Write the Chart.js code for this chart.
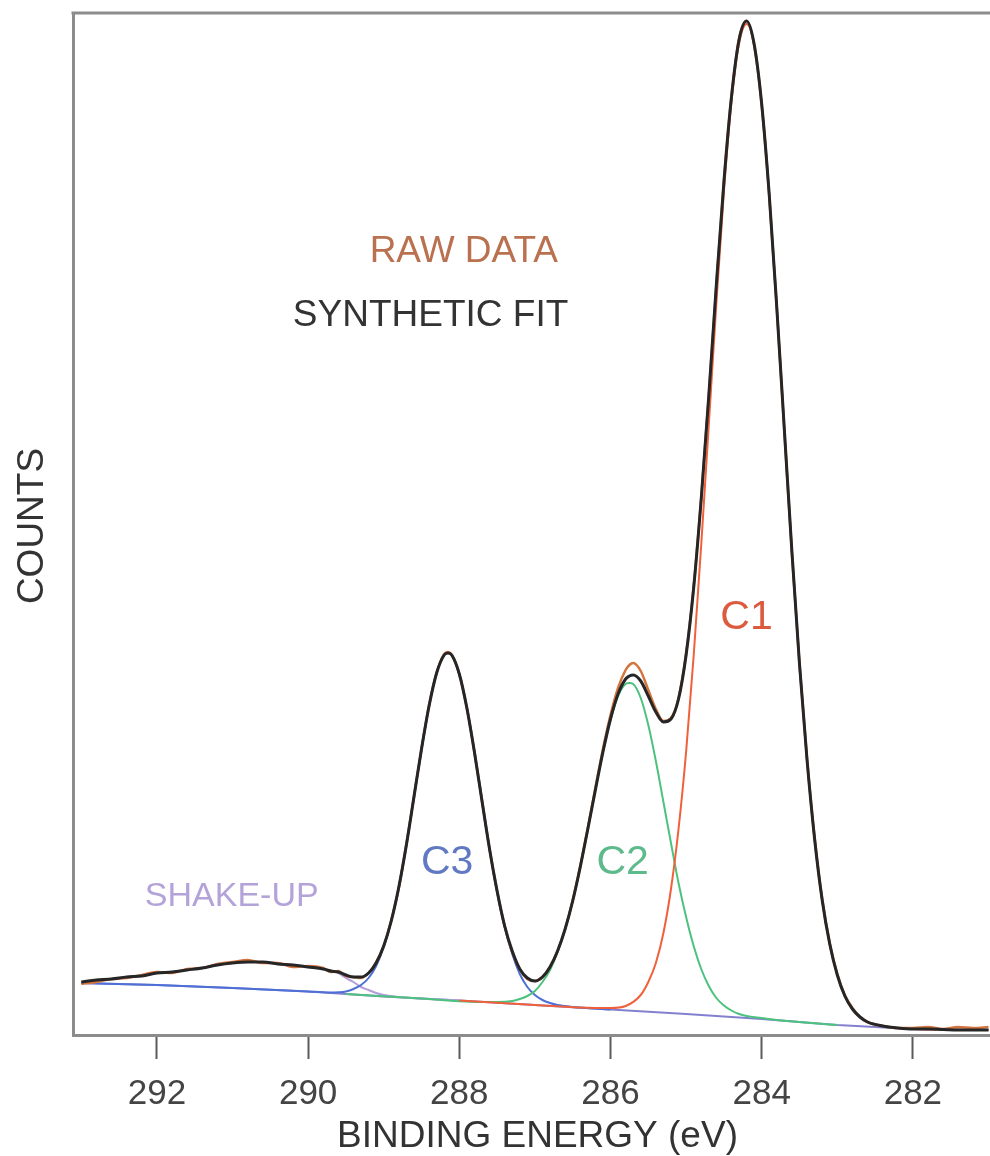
<!DOCTYPE html>
<html><head><meta charset="utf-8">
<script src="https://cdn.jsdelivr.net/npm/chart.js@4.4.1/dist/chart.umd.min.js"></script>
<style>html,body{margin:0;padding:0;background:#fff;}#wrap{width:990px;height:1156px;position:relative;}</style>
</head><body><div id="wrap"><canvas id="c" width="990" height="1156"></canvas></div>
<script>
// ---- data (binding energy in eV, counts in arbitrary units) ----
const xTicks = [292, 290, 288, 286, 284, 282];

const fitEnergy = [
  293.0, 292.8, 292.6, 292.4, 292.2, 292.0, 291.8, 291.6, 291.4, 291.2, 291.0, 290.8, 290.6, 290.4, 290.2, 290.0, 289.8,
  289.7, 289.6, 289.5, 289.4, 289.3, 289.2, 289.1, 289.0, 288.9, 288.8, 288.7, 288.6, 288.5, 288.4, 288.3, 288.2,
  288.15,
  288.1, 288.0, 287.9, 287.8, 287.7, 287.6, 287.5, 287.4, 287.3, 287.2, 287.1, 287.0,
  286.9, 286.8, 286.7, 286.6, 286.5, 286.4, 286.3, 286.2, 286.1, 286.0, 285.9, 285.8,
  285.75,
  285.7, 285.6, 285.5, 285.4, 285.3, 285.2, 285.1, 285.0,
  284.9, 284.8, 284.7, 284.6, 284.5, 284.4, 284.3, 284.2, 284.1, 284.0,
  283.9, 283.8, 283.7, 283.6, 283.5, 283.4, 283.3, 283.2, 283.1, 283.0,
  282.9, 282.8, 282.7, 282.6,
  282.4, 282.2, 282.0, 281.8, 281.6, 281.4, 281.2, 281.0
];
const fitCounts = [
  53, 55, 56, 58, 59, 62, 63, 65, 67, 70, 72, 73, 73, 71, 70, 68, 66,
  64, 63, 60, 58, 58, 62, 72, 89, 114, 148, 190, 238, 286, 329, 362, 380,
  382,
  380, 361, 327, 283, 234, 186, 144, 109, 84, 66, 57, 54,
  58, 68, 84, 106, 134, 168, 206, 245, 283, 316, 341, 356,
  359,
  360, 354, 339, 323, 313, 316, 336, 380,
  447, 536, 639, 750, 853, 938, 995, 1014, 991, 931,
  840, 727, 605, 483, 371, 275, 196, 135, 91, 60,
  39, 26, 18, 13,
  9, 7, 6, 6, 5.5, 5, 5, 5
];
const rawCounts = [
  51, 53, 56, 57, 60, 63, 62, 66, 67, 71, 73, 75, 72, 72, 68, 69, 67,
  63, 64, 59, 58, 57, 62, 73, 89, 115, 147, 191, 238, 286, 330, 362, 381,
  383,
  380, 361, 327, 283, 235, 186, 144, 109, 83, 66, 56, 54,
  58, 68, 84, 106, 135, 169, 207, 247, 286, 320, 347, 365,
  370,
  372, 364, 345, 326, 314, 317, 337, 381,
  448, 537, 639, 750, 853, 938, 996, 1014, 990, 930,
  839, 727, 604, 482, 371, 276, 197, 136, 92, 61,
  40, 27, 18, 13,
  9, 7, 7, 8, 6, 8, 7, 8
];

const bgEnergy = [293.0, 292.0, 291.0, 290.0, 289.0, 288.0, 287.0, 286.0, 285.0, 284.0, 283.0, 282.0, 281.0];
const bgCounts = [52, 50, 47, 43.5, 38.5, 34.5, 30, 25.5, 21, 16, 10, 6, 5];

const c1Energy = [
  288.0, 287.0, 286.2, 286.0, 285.8, 285.6,
  285.5, 285.4, 285.3, 285.2, 285.1, 285.0, 284.9, 284.8, 284.7, 284.6, 284.5, 284.4, 284.3, 284.2,
  284.1, 284.0, 283.9, 283.8, 283.7, 283.6, 283.5, 283.4, 283.3, 283.2, 283.1, 283.0, 282.9, 282.8, 282.7, 282.6,
  282.4, 282.2, 282.0, 281.0
];
const c1Counts = [
  34.5, 30, 27, 27, 29, 40,
  53, 72, 102, 146, 206, 283, 379, 490, 610, 731, 843, 933, 991, 1011,
  990, 931, 840, 727, 605, 483, 371, 275, 196, 135, 91, 60, 39, 26, 18, 13,
  9, 7, 6, 5
];

const c2Energy = [
  289.5, 288.5, 287.7, 287.5,
  287.3, 287.2, 287.1, 287.0,
  286.9, 286.8, 286.7, 286.6, 286.5, 286.4, 286.3, 286.2, 286.1, 286.0, 285.9, 285.8,
  285.75,
  285.7, 285.6, 285.5, 285.4, 285.3, 285.2, 285.1, 285.0, 284.9, 284.8, 284.7, 284.6, 284.5, 284.4, 284.3, 284.2,
  284.0, 283.8, 283.0
];
const c2Counts = [
  41, 36.5, 33, 33,
  34, 36, 39, 44,
  53, 65, 83, 106, 134, 168, 206, 245, 283, 315, 339, 351,
  352,
  351, 337, 310, 274, 233, 192, 152, 118, 89, 66, 49, 37, 29.5, 24.5, 21, 19,
  17, 15, 10
];

const c3Energy = [
  293.0, 292.0, 291.0, 290.0,
  289.8, 289.7, 289.6, 289.5, 289.4, 289.3, 289.2, 289.1, 289.0, 288.9, 288.8, 288.7, 288.6, 288.5, 288.4, 288.3, 288.2,
  288.15,
  288.1, 288.0, 287.9, 287.8, 287.7, 287.6, 287.5, 287.4, 287.3, 287.2, 287.1, 287.0, 286.9, 286.8, 286.7, 286.6, 286.5,
  286.0
];
const c3Counts = [
  52, 50, 47, 43.5,
  42.7, 42.5, 42.7, 43.5, 46, 50, 57, 69, 88, 114, 148, 190, 238, 286, 329, 362, 380,
  382,
  380, 361, 327, 283, 234, 186, 143, 108, 81, 61, 48, 40, 35, 32, 30, 29, 28,
  25.5
];

const suEnergy = [
  293.0, 292.8, 292.6, 292.4, 292.2, 292.0, 291.8, 291.6, 291.4, 291.2, 291.0, 290.8, 290.6, 290.4, 290.2, 290.0, 289.8,
  289.6, 289.5, 289.4, 289.3, 289.2, 289.1, 289.0, 288.9, 288.8,
  288.0
];
const suCounts = [
  53, 55, 56, 58, 59, 62, 63, 65, 67, 70, 72, 73, 73, 71, 70, 68, 66,
  62, 57, 53, 48, 45, 42, 40, 39, 38,
  34.5
];

// ---- helpers / rendering ----
function pts(xs, ys) { return xs.map((x, i) => ({ x: x, y: ys[i] })); }
const FONT = '"Liberation Sans", Arial, Helvetica, sans-serif';

const annotations = [
  { text: 'RAW DATA',      x: 287.94, y: 783, size: 37, color: '#b9714f' },
  { text: 'SYNTHETIC FIT', x: 288.38, y: 719, size: 37, color: '#333333' },
  { text: 'C1',            x: 284.20, y: 417, size: 41, color: '#dc5a3e' },
  { text: 'C2',            x: 285.84, y: 172, size: 41, color: '#5dba8a' },
  { text: 'C3',            x: 288.16, y: 172, size: 41, color: '#6079c2' },
  { text: 'SHAKE-UP',      x: 291.01, y: 138, size: 34, color: '#b4a3d9' }
];

const textPlugin = {
  id: 'textPlugin',
  afterDraw(chart) {
    const { ctx, chartArea, scales } = chart;
    const xs = scales.x, ys = scales.y;
    ctx.save();
    ctx.strokeStyle = '#8c8c8c';
    ctx.lineWidth = 3;
    ctx.beginPath();
    ctx.moveTo(chartArea.left - 1.5, chartArea.top);
    ctx.lineTo(chart.width, chartArea.top);
    ctx.stroke();

    ctx.textAlign = 'center';
    ctx.textBaseline = 'middle';
    for (const a of annotations) {
      ctx.font = a.size + 'px ' + FONT;
      ctx.fillStyle = a.color;
      ctx.fillText(a.text, xs.getPixelForValue(a.x), ys.getPixelForValue(a.y));
    }
    ctx.font = '37px ' + FONT;
    ctx.fillStyle = '#333333';
    ctx.fillText('BINDING ENERGY (eV)', (chartArea.left + chartArea.right) / 2 + 6, chart.height - 19);
    ctx.translate(33, (chartArea.top + chartArea.bottom) / 2 + 2);
    ctx.rotate(-Math.PI / 2);
    ctx.fillText('COUNTS', 0, 0);
    ctx.restore();
  }
};

const lineDs = (label, data, color, width, order) => ({
  label, data, borderColor: color, borderWidth: width, pointRadius: 0,
  cubicInterpolationMode: 'monotone', fill: false, order
});

new Chart(document.getElementById('c'), {
  type: 'line',
  data: {
    datasets: [
      lineDs('Synthetic fit', pts(fitEnergy, fitCounts), '#262626', 3, 0),
      lineDs('Raw data', pts(fitEnergy, rawCounts), '#d4743e', 2.5, 1),
      lineDs('C1', pts(c1Energy, c1Counts), '#f0603a', 2, 2),
      lineDs('C2', pts(c2Energy, c2Counts), '#4cc27e', 2, 3),
      lineDs('C3', pts(c3Energy, c3Counts), '#4d6fd6', 2, 4),
      lineDs('Shake-up', pts(suEnergy, suCounts), '#b39ddb', 2, 5),
      Object.assign(lineDs('Background', pts(bgEnergy, bgCounts), '#8480d0', 2, 6), { tension: 0, cubicInterpolationMode: 'default' })
    ]
  },
  options: {
    responsive: false,
    devicePixelRatio: 1,
    animation: false,
    layout: { padding: { top: 13, left: 0, right: 0, bottom: 0 } },
    plugins: { legend: { display: false }, tooltip: { enabled: false } },
    scales: {
      x: {
        type: 'linear', reverse: true, min: 280.98, max: 293.11,
        afterBuildTicks: s => { s.ticks = xTicks.map(v => ({ value: v })); },
        afterFit: s => { s.height = 121; },
        grid: { display: true, drawOnChartArea: false, drawTicks: true, tickLength: 24, tickWidth: 2, tickColor: '#5a5a5a' },
        border: { display: true, color: '#8c8c8c', width: 3 },
        ticks: { font: { family: FONT, size: 35 }, color: '#444444', padding: 14, maxRotation: 0, autoSkip: false }
      },
      y: {
        type: 'linear', min: 0, max: 1022,
        afterFit: s => { s.width = 73; },
        grid: { display: false },
        border: { display: true, color: '#8c8c8c', width: 3 },
        ticks: { display: false }
      }
    }
  },
  plugins: [textPlugin]
});
</script>
</body></html>
